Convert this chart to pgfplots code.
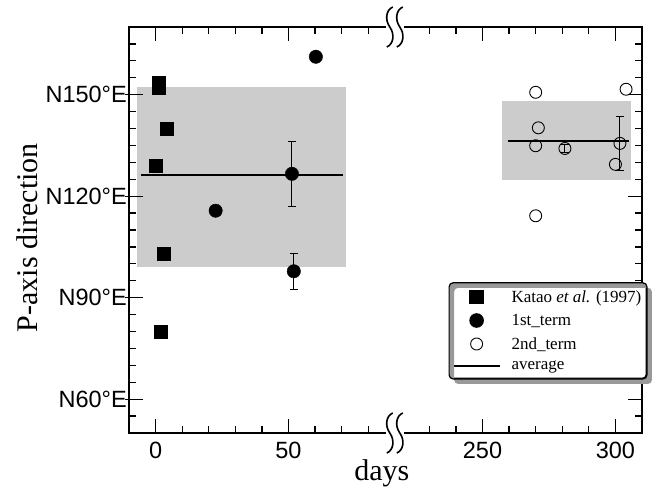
\documentclass[border=0pt]{standalone}
\usepackage{fontspec}
\setmainfont{Liberation Serif}
\newfontfamily\hel{Liberation Sans}
\usepackage{pgfplots}
\usepackage{pgfplotstable}
\pgfplotsset{compat=1.18}

% days after the break are plotted at (day - 127): the axis is cut between day 90 and day 217
\pgfplotstableread{
day  dir
270  150.7
271  140.2
270  134.9
281  134.1
301.7 135.6
300  129.4
304  151.6
270  114.2
}\secondterm

\pgfplotsset{
  mylegmark/.style={legend image code/.code={%
      \draw[mark repeat=1,mark phase=1,##1] plot coordinates {(23bp,0bp)};}},
  mylegline/.style={legend image code/.code={%
      \draw[##1] (0bp,0bp) -- (46bp,0bp);}},
  errbar/.style={black, line width=0.9bp, forget plot},
}

\begin{document}
\begin{tikzpicture}
\useasboundingbox (0,0) rectangle (656bp,488bp);
\begin{axis}[
  at={(129bp,55bp)}, anchor=south west,
  scale only axis, width=513bp, height=406bp,
  xmin=-10, xmax=183, ymin=50, ymax=170,
  xtick={0,50,123,173}, xticklabels={0,50,250,300},
  ytick={60,90,120,150}, yticklabels={N60°E,N90°E,N120°E,N150°E},
  major tick length=0pt, minor tick length=0pt,
  axis line style={line width=1.8bp},
  ticklabel style={font=\hel\fontsize{23.5bp}{28bp}\selectfont},
  yticklabel style={inner xsep=2bp},
  xticklabel style={yshift=-6bp},
  xlabel={days}, ylabel={P-axis direction},
  label style={font=\fontsize{30bp}{36bp}\selectfont},
  xlabel style={at={(axis description cs:0.493,-0.116)}, anchor=base},
  ylabel style={at={(axis description cs:-0.179,0.481)}, anchor=base, rotate=0},
  legend style={at={(axis description cs:0.624,0.370)}, anchor=north west,
    name=leg, draw=black, line width=1.2bp, rounded corners=4bp, fill=white,
    font=\fontsize{17bp}{20bp}\selectfont,
    inner xsep=3bp, inner ysep=5bp, row sep=6.5bp,
    /tikz/every odd column/.append style={column sep=9bp}},
  legend cell align=left,
]
% shaded ranges
\addplot[fill=black!20, draw=none, forget plot] coordinates {(-7,99) (71.7,99) (71.7,152.2) (-7,152.2)} -- cycle;
\addplot[fill=black!20, draw=none, forget plot] table[x expr=\thisrow{day}-127, y=dir] {
day dir
257.3 124.7
306 124.7
306 148.1
257.3 148.1
} -- cycle;
% averages
\addplot[black, line width=1.8bp, forget plot] coordinates {(-5.4,126.2) (70.4,126.2)};
\addplot[black, line width=1.8bp, forget plot] table[x expr=\thisrow{day}-127, y=dir] {
day dir
259.5 136.4
305 136.4
};
% error bars (vertical bar and caps), 1st term
\addplot[errbar] coordinates {(51.3,116.9) (51.3,136.3)};
\addplot[errbar] coordinates {(49.8,116.9) (52.8,116.9)};
\addplot[errbar] coordinates {(49.8,136.3) (52.8,136.3)};
\addplot[errbar] coordinates {(52,92.4) (52,103.2)};
\addplot[errbar] coordinates {(50.5,92.4) (53.5,92.4)};
\addplot[errbar] coordinates {(50.5,103.2) (53.5,103.2)};
% Katao et al.
\addplot[only marks, mark=square*, mark size=6.7bp, black, mylegmark] coordinates {
  (1.2,153.6) (1.2,152.1) (4.1,140) (0,129) (3,103) (2,80)};
\addlegendentry{Katao \textit{et al.} (1997)}
% 1st term
\addplot[only marks, mark=*, mark size=6.7bp, black, mylegmark] coordinates {
  (22.6,115.7) (51.3,126.6) (52,97.8) (60.3,161.2)};
\addlegendentry{1st\_term}
% 2nd term
\addplot[only marks, mark=o, mark size=6bp, black, mark options={line width=0.9bp, fill=none}, mylegmark]
  table[x expr=\thisrow{day}-127, y=dir] {\secondterm};
\addlegendentry{2nd\_term}
\addlegendimage{black, line width=1.8bp, mylegline}
\addlegendentry{average}
% error bars, 2nd term (days 281 and 301.7)
\addplot[errbar] coordinates {(154,133) (154,135.2)};
\addplot[errbar] coordinates {(152.5,133) (155.5,133)};
\addplot[errbar] coordinates {(152.5,135.2) (155.5,135.2)};
\addplot[errbar] coordinates {(174.7,127.7) (174.7,143.5)};
\addplot[errbar] coordinates {(173.2,127.7) (176.2,127.7)};
\addplot[errbar] coordinates {(173.2,143.5) (176.2,143.5)};
\end{axis}
% inward ticks of the frame
\begin{scope}[x=2.65803bp, y=3.38333bp, shift={(155.58bp,-114.17bp)}, line width=1.3bp]
  \foreach \t in {0,50,123,173} {
    \draw (\t,50) -- ++(0,14bp); \draw (\t,170) -- ++(0,-14bp);}
  \foreach \t in {10,20,30,40,60,70,80,103,113,133,143,153,163} {
    \draw (\t,50) -- ++(0,7bp); \draw (\t,170) -- ++(0,-7bp);}
  \foreach \t in {60,90,120,150} {\draw (-10,\t) ++(-4bp,0) -- ++(18bp,0);}
  \foreach \t in {60,120,150} {\draw (183,\t) -- ++(-14bp,0);}
  \foreach \t in {55,65,70,75,80,85,95,100,105,110,115,125,130,135,140,145,155,160,165} {
    \draw (-10,\t) -- ++(7bp,0);}
  \foreach \t in {55,65,95,100,105,110,115,125,130,135,140,145,155,160,165} {
    \draw (183,\t) -- ++(-7bp,0);}
  % axis breaks
  \foreach \yb in {50,170} {
    \begin{scope}[shift={(90,\yb)}, x=1bp, y=1bp]
      \fill[white] (-9,-2.2) rectangle (9,2.2);
      \foreach \dx in {-5,5} {
        \draw[line width=1.6bp, xshift=\dx bp] (3,20) .. controls (-4,17) and (-5,7) .. (0,0) .. controls (5,-7) and (4,-17) .. (-3,-20);
      }
    \end{scope}
  }
\end{scope}
% legend shadow
\fill[black!40, even odd rule, rounded corners=4bp]
  ([xshift=5bp,yshift=-5bp]leg.south west) rectangle ([xshift=5bp,yshift=-5bp]leg.north east)
  (leg.south west) rectangle (leg.north east);
\draw[line width=1.2bp, rounded corners=4bp] (leg.south west) rectangle (leg.north east);
\end{tikzpicture}
\end{document}
